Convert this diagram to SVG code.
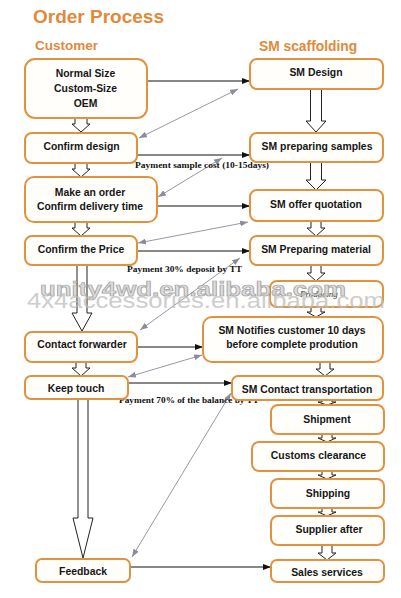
<svg xmlns="http://www.w3.org/2000/svg" width="401" height="598" viewBox="0 0 401 598">
<defs>
<style>
.hd{font-family:"Liberation Sans",Arial,sans-serif;font-weight:bold;fill:#E2893A}
.box{fill:#FFFEFB;stroke:#E1923F;stroke-width:2}
.t{font-family:"Liberation Sans",Arial,sans-serif;font-weight:bold;font-size:10.4px;fill:#161616;text-anchor:middle}
.lbl{font-family:"Liberation Serif","Times New Roman",serif;font-weight:bold;font-size:8px;fill:#111}
.blk{fill:none;stroke:#111;stroke-width:1;marker-end:url(#ab)}
.gry{fill:none;stroke:#8c8c9c;stroke-width:0.9;marker-start:url(#ag);marker-end:url(#ag)}
.ba{fill:#fff;stroke:#222;stroke-width:1;stroke-linejoin:miter}
.wm{font-family:"Liberation Sans",Arial,sans-serif;font-weight:bold}
</style>
<marker id="ab" viewBox="0 0 8 6" refX="8" refY="3" markerWidth="8" markerHeight="6" markerUnits="userSpaceOnUse" orient="auto"><path d="M0,0 L8,3 L0,6 z" fill="#111"/></marker>
<marker id="ag" viewBox="0 0 8 6" refX="8" refY="3" markerWidth="8" markerHeight="6" markerUnits="userSpaceOnUse" orient="auto-start-reverse"><path d="M0,0 L8,3 L0,6 z" fill="#8c8c9c"/></marker>
</defs>
<rect width="401" height="598" fill="#fff"/>
<text class="hd" x="33" y="23" font-size="19">Order Process</text>
<text class="hd" x="35" y="50" font-size="13.5">Customer</text>
<text class="hd" x="259" y="51" font-size="13.8">SM scaffolding</text>

<g id="block-arrows">
<path class="ba" d="M75,118 V124 H72 L81,132 L90,124 H87 V118"/>
<path class="ba" d="M75,163 V169 H72 L81,177 L90,169 H87 V163"/>
<path class="ba" d="M75,222 V228 H72 L81,236 L90,228 H87 V222"/>
<path class="ba" d="M77,265 V313 H72 L82,331 L92,313 H87 V265"/>
<path class="ba" d="M76,362 V368 H72 L81,376 L90,368 H86 V362"/>
<path class="ba" d="M78,399 V518 H73 L83,558 L93,518 H88 V399"/>
<path class="ba" d="M310.5,89 V121 H306 L316,132 L326,121 H321.5 V89"/>
<path class="ba" d="M310.5,162 V180 H306 L316,190 L326,180 H321.5 V162"/>
<path class="ba" d="M311,221 V228 H307 L316,236 L325,228 H321 V221"/>
<path class="ba" d="M311,265 V273 H307 L316,281 L325,273 H321 V265"/>
<path class="ba" d="M311,307 V312 H307 L316,317 L325,312 H321 V307"/>
<path class="ba" d="M320,362 V369 H316 L325,376 L334,369 H330 V362"/>
<path class="ba" d="M322,400 V402 H318 L327,405 L336,402 H332 V400"/>
<path class="ba" d="M322,434 V438 H318 L327,442 L336,438 H332 V434"/>
<path class="ba" d="M322,471 V475 H318 L327,479 L336,475 H332 V471"/>
<path class="ba" d="M322,508 V512 H318 L327,516 L336,512 H332 V508"/>
<path class="ba" d="M322,545 V553 H318 L327,560 L336,553 H332 V545"/>
</g>

<g id="connectors">
<path class="blk" d="M147,81 H250"/>
<path class="blk" d="M137,155 H250"/>
<path class="blk" d="M157,206 H250"/>
<path class="blk" d="M137,251 H250"/>
<path class="blk" d="M137,347 H203"/>
<path class="blk" d="M128,383 H232"/>
<path class="blk" d="M130,567 H271"/>
<path class="gry" d="M139,138 L238,89"/>
<path class="gry" d="M158,197 L222,158"/>
<path class="gry" d="M138,243 L248,222"/>
<path class="gry" d="M140,330 L240,258"/>
<path class="gry" d="M128,377 L202,355"/>
<path class="gry" d="M132,557 L231,393"/>
<text class="lbl" x="135" y="168" textLength="134" lengthAdjust="spacingAndGlyphs">Payment sample cost (10-15days)</text>
<text class="lbl" x="127" y="272" textLength="115" lengthAdjust="spacingAndGlyphs">Payment 30% deposit by TT</text>
<text class="lbl" x="119" y="403" textLength="140" lengthAdjust="spacingAndGlyphs">Payment 70% of the balance by TT</text>
</g>

<g id="normal-size"><rect class="box" x="25" y="59" width="122" height="59" rx="10"/>
<text class="t" x="85.5" y="77">Normal Size</text><text class="t" x="85.5" y="92">Custom-Size</text><text class="t" x="85.5" y="107">OEM</text></g>
<g id="confirm-design"><rect class="box" x="25" y="133" width="112" height="30" rx="7"/><text class="t" x="81.5" y="150">Confirm design</text></g>
<g id="make-order"><rect class="box" x="25" y="177" width="132" height="45" rx="9"/>
<text class="t" x="90" y="196">Make an order</text><text class="t" x="90" y="210">Confirm delivery time</text></g>
<g id="confirm-price"><rect class="box" x="25" y="236" width="112" height="29" rx="7"/><text class="t" x="81" y="253">Confirm the Price</text></g>
<g id="contact-forwarder"><rect class="box" x="25" y="332" width="112" height="30" rx="7"/><text class="t" x="82" y="348">Contact forwarder</text></g>
<g id="keep-touch"><rect class="box" x="25" y="376" width="103" height="23" rx="6"/><text class="t" x="76" y="392">Keep touch</text></g>
<g id="feedback"><rect class="box" x="36" y="559" width="94" height="23" rx="6"/><text class="t" x="83" y="575">Feedback</text></g>

<g id="sm-design"><rect class="box" x="250" y="59" width="133" height="30" rx="7"/><text class="t" x="316" y="76">SM Design</text></g>
<g id="sm-samples"><rect class="box" x="250" y="133" width="133" height="29" rx="7"/><text class="t" x="317" y="150">SM preparing samples</text></g>
<g id="sm-quotation"><rect class="box" x="250" y="190" width="133" height="31" rx="7"/><text class="t" x="316" y="208">SM offer quotation</text></g>
<g id="sm-material"><rect class="box" x="250" y="236" width="133" height="29" rx="7"/><text class="t" x="316" y="253">SM Preparing material</text></g>
<g id="producing"><rect class="box" x="270" y="281" width="113" height="26" rx="7"/>
<text x="300" y="297" font-family="Liberation Serif,serif" font-style="italic" font-size="9" fill="#333">Producing</text></g>
<g id="sm-notifies"><rect class="box" x="203" y="317" width="180" height="45" rx="9"/>
<text class="t" x="292" y="334">SM Notifies customer 10 days</text><text class="t" x="292" y="348">before complete prodution</text></g>
<g id="sm-transport"><rect class="box" x="232" y="376" width="151" height="24" rx="6"/><text class="t" x="307" y="393">SM Contact transportation</text></g>
<g id="shipment"><rect class="box" x="271" y="405" width="113" height="29" rx="7"/><text class="t" x="327" y="423">Shipment</text></g>
<g id="customs"><rect class="box" x="252" y="442" width="132" height="29" rx="7"/><text class="t" x="318.5" y="459">Customs  clearance</text></g>
<g id="shipping"><rect class="box" x="271" y="479" width="113" height="29" rx="7"/><text class="t" x="328" y="497">Shipping</text></g>
<g id="supplier-after"><rect class="box" x="271" y="516" width="113" height="29" rx="7"/><text class="t" x="329" y="533">Supplier after</text></g>
<g id="sales-services"><rect class="box" x="271" y="560" width="113" height="22" rx="6"/><text class="t" x="327" y="576">Sales services</text></g>

<g id="watermark">
<text class="wm" x="40" y="296" font-size="21" textLength="306" lengthAdjust="spacingAndGlyphs" fill="#d6d6d6" stroke="#8e8e8e" stroke-width="0.7" opacity="0.85">unity4wd.en.alibaba.com</text>
<text x="27" y="308" font-family="Liberation Sans,Arial,sans-serif" font-size="22" textLength="358" lengthAdjust="spacingAndGlyphs" fill="#bdbdbd" opacity="0.75">4x4accessories.en.alibaba.com</text>
</g>
</svg>
